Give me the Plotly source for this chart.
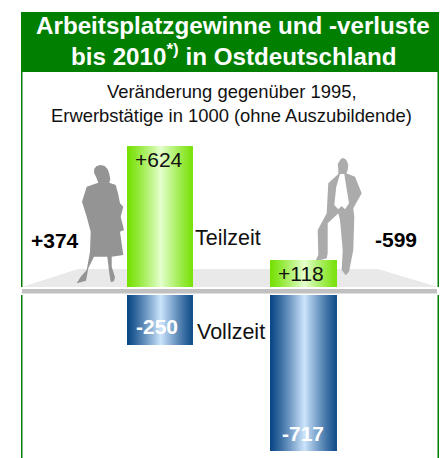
import numpy as np
import plotly.graph_objects as go

W, H = 442, 458

# ---- data -------------------------------------------------------------
groups = ["Frauen", "Männer"]
teilzeit_values = [624, 118]
vollzeit_values = [-250, -717]
# Heights as drawn in the picture: the source's lower bars are not on one common scale.
vollzeit_drawn = [-231, -717]
teilzeit_labels = ["+624", "+118"]
vollzeit_labels = ["-250", "-717"]
total_labels = ["+374", "-599"]
series_names = ["Teilzeit", "Vollzeit"]
title_lines = ["Arbeitsplatzgewinne und -verluste", "bis 2010<sup>*)</sup> in Ostdeutschland"]
subtitle_lines = ["Veränderung gegenüber 1995,", "Erwerbstätige in 1000 (ohne Auszubildende)"]

# ---- layout helpers ----------------------------------------------------
bar_spans = [(128, 193), (271, 337)]
FONT = "Liberation Sans, Arial, sans-serif"


def mix(c1, c2, t):
    return "rgb(%d,%d,%d)" % tuple(round(a + (b - a) * t) for a, b in zip(c1, c2))


def gradient(n, edge, centre):
    pos = (np.arange(n) + 0.5) / n
    t = 1 - np.abs(pos - 0.52) / 0.52
    return [mix(edge, centre, min(1, float(v) ** 1.15)) for v in t]


GREEN_EDGE, GREEN_CENTRE = (116, 224, 0), (228, 255, 205)
BLUE_EDGE, BLUE_CENTRE = (8, 70, 132), (204, 228, 252)

fig = go.Figure()
for (x0, x1), top, low in zip(bar_spans, teilzeit_values, vollzeit_drawn):
    n = x1 - x0
    xs = x0 + 0.5 + np.arange(n)
    fig.add_trace(go.Bar(x=xs, y=[top] * n, width=1.02, yaxis="y2",
                         marker=dict(color=gradient(n, GREEN_EDGE, GREEN_CENTRE), line_width=0),
                         showlegend=False, hoverinfo="skip"))
    fig.add_trace(go.Bar(x=xs, y=[low] * n, width=1.02, yaxis="y3",
                         marker=dict(color=gradient(n, BLUE_EDGE, BLUE_CENTRE), line_width=0),
                         showlegend=False, hoverinfo="skip"))


# ---- decoration (traced silhouettes, canvas coordinates) -----------------
def traced(points, left, top):
    return [(left + x / 3, top + y / 3) for x, y in points]


WOMAN = traced([(80, 18), (92, 15), (104, 18), (113, 28), (118, 42), (121, 58), (118, 68), (137, 75), (144, 100),
                (150, 130), (160, 140), (152, 170), (162, 210), (150, 215), (160, 285), (125, 290), (125, 320),
                (135, 352), (132, 364), (122, 366), (118, 340), (112, 290), (72, 290), (55, 325), (48, 362),
                (20, 370), (32, 350), (50, 330), (60, 275), (62, 215), (50, 170), (36, 125), (50, 80), (85, 68),
                (78, 50), (72, 38), (73, 26)], 70, 160)
MAN = traced([(108, 26), (116, 24), (124, 30), (130, 44), (128, 60), (124, 70), (150, 80), (170, 130), (145, 175),
              (148, 200), (145, 300), (132, 365), (122, 376), (110, 360), (113, 300), (105, 210), (100, 190),
              (68, 220), (68, 310), (65, 325), (30, 335), (40, 315), (38, 240), (65, 190), (70, 100), (100, 72),
              (100, 58), (98, 42)], 305, 150)
SHIRT = traced([(105, 72), (118, 72), (124, 110), (132, 160), (120, 178), (110, 168), (100, 178), (88, 165),
                (94, 110)], 305, 150)


def path(points):
    return "M " + " L ".join(f"{x:.1f},{y:.1f}" for x, y in points) + " Z"


def rect(x0, y0, x1, y1, color, layer="below"):
    return dict(type="rect", xref="x", yref="y", x0=x0, y0=y0, x1=x1, y1=y1,
                fillcolor=color, line_width=0, layer=layer)


def poly(points, color, layer="below"):
    return dict(type="path", xref="x", yref="y", path=path(points),
                fillcolor=color, line_width=0, layer=layer)


FRAME = "#007f00"
shapes = [
    poly([(22, 287), (78, 269), (378, 269), (438, 287)], "#e9e9e9"),
    poly(WOMAN, "#949494"),
    poly(MAN, "#ababab"),
    poly(SHIRT, "#ffffff"),
    rect(21, 12, 22.5, H, FRAME),
    rect(437.5, 12, 439, H, FRAME),
    rect(21, 12, 439, 72, FRAME),
    rect(21, 287, 439, 295, "#ffffff"),
    rect(22, 289, 437, 293.5, "#c0c0c0"),
]


def note(text, x, y, size, color="#111111", bold=False):
    body = f"<b>{text}</b>" if bold else text
    return dict(text=body, x=x, y=y, xref="x", yref="y", xanchor="center", yanchor="middle",
                showarrow=False, font=dict(family=FONT, size=size, color=color))


annotations = [
    note(title_lines[0], 232.5, 25, 24.2, "#ffffff", True),
    note(title_lines[1], 233, 55, 24.2, "#ffffff", True),
    note(subtitle_lines[0], 231.5, 91, 18.4),
    note(subtitle_lines[1], 231, 115, 18.4),
    note(teilzeit_labels[0], 158.5, 159.5, 21),
    note(teilzeit_labels[1], 300.5, 273, 21),
    note(vollzeit_labels[0], 156.5, 326.5, 21, "#ffffff", True),
    note(vollzeit_labels[1], 303, 433, 21, "#ffffff", True),
    note(series_names[0], 228, 238, 21.5),
    note(series_names[1], 231, 332, 21.5),
    note(total_labels[0], 54.5, 240, 21, "#000000", True),
    note(total_labels[1], 396, 239, 21, "#000000", True),
]

hidden = dict(visible=False, fixedrange=True)
fig.update_layout(
    width=W, height=H, autosize=False,
    margin=dict(l=0, r=0, t=0, b=0, pad=0),
    paper_bgcolor="#ffffff", plot_bgcolor="rgba(0,0,0,0)",
    barmode="overlay", bargap=0, showlegend=False,
    shapes=shapes, annotations=annotations,
    xaxis=dict(range=[0, W], domain=[0, 1], **hidden),
    yaxis=dict(range=[H, 0], domain=[0, 1], **hidden),
    yaxis2=dict(range=[0, 624], domain=[1 - 287 / H, 1 - 146 / H], anchor="x", **hidden),
    yaxis3=dict(range=[-717, 0], domain=[1 - 451 / H, 1 - 295 / H], anchor="x", **hidden),
)
fig.write_html("out.html", config={"displayModeBar": False},
               post_script="document.body.style.margin='0';document.documentElement.style.overflow='hidden';")
